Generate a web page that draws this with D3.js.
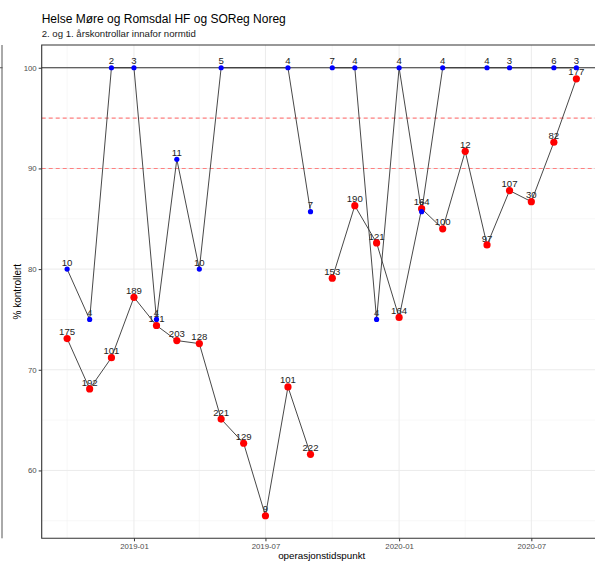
<!DOCTYPE html>
<html>
<head>
<meta charset="utf-8">
<script src="https://cdn.jsdelivr.net/npm/d3@7"></script>
<style>
html,body{margin:0;padding:0;background:#fff;}
svg{display:block;font-family:"Liberation Sans",Arial,sans-serif;}
</style>
</head>
<body>
<svg id="chart" width="595" height="561"></svg>
<script>
// ---- data ----
const months = ["2018-10","2018-11","2018-12","2019-01","2019-02","2019-03","2019-04","2019-05","2019-06","2019-07","2019-08","2019-09",
                "2019-10","2019-11","2019-12","2020-01","2020-02","2020-03","2020-04","2020-05","2020-06","2020-07","2020-08","2020-09"];
const lineGroup = [1,1,1,1,1,1,1,1,1,1,1,1, 2,2,2,2,2,2,2,2,2,2,2,2];
const redValues = [73.1,68.1,71.2,77.2,74.4,72.9,72.6,65.1,62.7,55.5,68.3,61.6,
                   79.1,86.3,82.6,75.2,86.0,84.0,91.7,82.4,87.8,86.7,92.6,98.9];
const redN = [175,192,101,189,171,203,128,221,129,9,101,222,
              153,190,121,164,164,100,12,97,107,30,82,177];
const blueValues = [80,75,100,100,75,90.9,80,100,null,null,100,85.7,
                    100,100,75,100,85.7,100,null,100,100,null,100,100];
const blueN = [10,4,2,3,4,11,10,5,null,null,4,7,
               7,4,4,4,7,4,null,4,3,null,6,3];
const yMajor = [60,70,80,90,100];
const yMinor = [55,65,75,85,95];
const xMajor = ["2019-01","2019-07","2020-01","2020-07"];
const xMinor = ["2018-10","2019-04","2019-10","2020-04"];
const refLines = [95,90];
const titleText = "Helse Møre og Romsdal HF og SOReg Noreg";
const subtitleText = "2. og 1. årskontrollar innafor normtid";
const yTitleText = "% kontrollert";
const xTitleText = "operasjonstidspunkt";

// ---- layout ----
const svg = d3.select("#chart");
const parse = s => { const [yy,mm] = s.split("-").map(Number); return new Date(Date.UTC(yy, mm-1, 1)); };
const pLeft = 41.7, pRight = 601.8, pTop = 45, pBottom = 538.3;
const x = d3.scaleUtc().domain([new Date(Date.UTC(2018,7,27)), new Date(Date.UTC(2020,9,6))]).range([pLeft, pRight]);
const y = d3.scaleLinear().domain([53.26, 102.26]).range([pBottom, pTop]);

svg.append("rect").attr("x",0).attr("y",0).attr("width",595).attr("height",561).attr("fill","#fff");

// fragment of neighbouring panel at far left
svg.append("line").attr("x1",2).attr("x2",2).attr("y1",pTop).attr("y2",pBottom).attr("stroke","#555").attr("stroke-width",1);
svg.append("line").attr("x1",0).attr("x2",2.5).attr("y1",y(100)).attr("y2",y(100)).attr("stroke","#555").attr("stroke-width",1);

const panel = svg.append("g");
// grid
panel.selectAll(".ymin").data(yMinor).join("line")
  .attr("x1",pLeft).attr("x2",pRight).attr("y1",d=>y(d)).attr("y2",d=>y(d))
  .attr("stroke","#f2f2f2").attr("stroke-width",0.6);
panel.selectAll(".xmin").data(xMinor).join("line")
  .attr("x1",d=>x(parse(d))).attr("x2",d=>x(parse(d))).attr("y1",pTop).attr("y2",pBottom)
  .attr("stroke","#f2f2f2").attr("stroke-width",0.6);
panel.selectAll(".ymaj").data(yMajor).join("line")
  .attr("x1",pLeft).attr("x2",pRight).attr("y1",d=>y(d)).attr("y2",d=>y(d))
  .attr("stroke","#ebebeb").attr("stroke-width",1);
panel.selectAll(".xmaj").data(xMajor).join("line")
  .attr("x1",d=>x(parse(d))).attr("x2",d=>x(parse(d))).attr("y1",pTop).attr("y2",pBottom)
  .attr("stroke","#ebebeb").attr("stroke-width",1);

// reference lines
panel.append("line").attr("x1",pLeft).attr("x2",pRight).attr("y1",y(100)).attr("y2",y(100))
  .attr("stroke","#333").attr("stroke-width",1.1);
panel.selectAll(".ref").data(refLines).join("line")
  .attr("x1",pLeft).attr("x2",pRight).attr("y1",d=>y(d)).attr("y2",d=>y(d))
  .attr("stroke","#ff8080").attr("stroke-width",1.1).attr("stroke-dasharray","4,3");

// build points
const red = months.map((m,i)=>({date:parse(m), v:redValues[i], n:redN[i], g:lineGroup[i]}));
const blue = months.map((m,i)=>({date:parse(m), v:blueValues[i], n:blueN[i], g:lineGroup[i]})).filter(d=>d.v!==null);

// labels
function labels(data){
  panel.append("g").selectAll("text").data(data).join("text")
    .attr("x",d=>x(d.date)).attr("y",d=>y(d.v)-3.4)
    .attr("text-anchor","middle").attr("font-size","9.6px").attr("fill","#222")
    .text(d=>d.n);
}
labels(red); labels(blue);

// lines
const line = d3.line().x(d=>x(d.date)).y(d=>y(d.v));
function lines(data){
  const groups = d3.groups(data, d=>d.g);
  panel.append("g").selectAll("path").data(groups).join("path")
    .attr("d",g=>line(g[1])).attr("fill","none").attr("stroke","#333").attr("stroke-width",0.9);
}
lines(red); lines(blue);

// points
panel.append("g").selectAll("circle").data(red).join("circle")
  .attr("cx",d=>x(d.date)).attr("cy",d=>y(d.v)).attr("r",3.6).attr("fill","#ff0000");
panel.append("g").selectAll("circle").data(blue).join("circle")
  .attr("cx",d=>x(d.date)).attr("cy",d=>y(d.v)).attr("r",2.6).attr("fill","#0000ff");

// border
panel.append("path").attr("d",`M${pRight+5},${pTop}H${pLeft}V${pBottom}H${pRight+5}`)
  .attr("fill","none").attr("stroke","#333").attr("stroke-width",1.1);

// axes
const yAxis = d3.axisLeft(y).tickValues(yMajor).tickSize(3).tickPadding(2).tickFormat(d3.format("d"));
const gy = svg.append("g").attr("transform",`translate(${pLeft},0)`).call(yAxis);
gy.select(".domain").remove();
gy.selectAll("line").attr("stroke","#333");
gy.selectAll("text").attr("font-size","7.8px").attr("fill","#4d4d4d").attr("font-family","Liberation Sans, Arial, sans-serif");

const xAxis = d3.axisBottom(x).tickValues(xMajor.map(parse)).tickSize(3).tickPadding(2).tickFormat(d3.utcFormat("%Y-%m"));
const gx = svg.append("g").attr("transform",`translate(0,${pBottom})`).call(xAxis);
gx.select(".domain").remove();
gx.selectAll("line").attr("stroke","#333");
gx.selectAll("text").attr("font-size","7.8px").attr("fill","#4d4d4d").attr("font-family","Liberation Sans, Arial, sans-serif");

// titles
svg.append("text").attr("x",pLeft).attr("y",23).attr("font-size","12px").attr("fill","#000").text(titleText);
svg.append("text").attr("x",pLeft).attr("y",37.3).attr("font-size","9.6px").attr("fill","#1a1a1a").text(subtitleText);
svg.append("text").attr("transform",`translate(20.5,${(pTop+pBottom)/2}) rotate(-90)`)
  .attr("text-anchor","middle").attr("font-size","10px").attr("fill","#000").text(yTitleText);
svg.append("text").attr("x",(pLeft+pRight)/2).attr("y",559).attr("text-anchor","middle")
  .attr("font-size","9.8px").attr("fill","#000").text(xTitleText);
</script>
</body>
</html>
